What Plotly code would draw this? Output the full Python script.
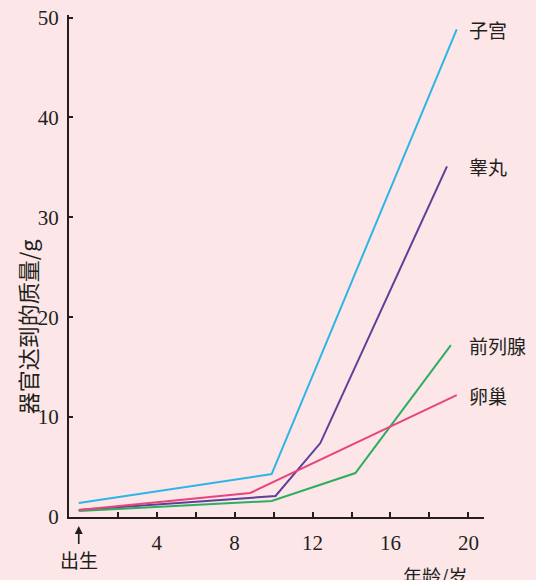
import plotly.graph_objects as go

# Data (age in years, organ mass in g)
uterus_x = [0, 9.9, 19.4]
uterus_y = [1.4, 4.3, 48.8]
testis_x = [0, 10.1, 12.4, 18.9]
testis_y = [0.7, 2.1, 7.4, 35.1]
prostate_x = [0, 9.9, 14.2, 19.1]
prostate_y = [0.6, 1.6, 4.4, 17.2]
ovary_x = [0, 8.8, 19.4]
ovary_y = [0.7, 2.4, 12.2]

series = [
    ("子宫", uterus_x, uterus_y, "#2cb5e6"),
    ("睾丸", testis_x, testis_y, "#5e3f99"),
    ("前列腺", prostate_x, prostate_y, "#2fae62"),
    ("卵巢", ovary_x, ovary_y, "#e8457c"),
]

x_tickvals = [2, 4, 6, 8, 10, 12, 14, 16, 18, 20]
x_ticktext = ["", "4", "", "8", "", "12", "", "16", "", "20"]
y_tickvals = [0, 10, 20, 30, 40, 50]

BG = "#fce6e8"
INK = "#231f20"
CJK = "Noto Sans CJK SC"
SERIF = "Liberation Serif"

fig = go.Figure()
for name, xs, ys, col in series:
    fig.add_trace(go.Scatter(x=xs, y=ys, mode="lines", name=name,
                             line=dict(color=col, width=2), showlegend=False,
                             hoverinfo="skip"))

annotations = []
for name, xs, ys, col in series:
    annotations.append(dict(x=20, y=ys[-1], xref="x", yref="y", text=name,
                            showarrow=False, xanchor="left", yanchor="middle",
                            xshift=-1,
                            font=dict(family=CJK, size=19, color=INK)))

# birth marker
annotations.append(dict(x=0, y=0, xref="x", yref="y", text="出生",
                        showarrow=True, arrowhead=2, arrowsize=1, arrowwidth=1.6,
                        arrowcolor=INK, ax=0, ay=42, standoff=9,
                        font=dict(family=CJK, size=19, color=INK)))
# x-axis title (partly below the bottom edge, as in the source figure)
annotations.append(dict(x=18.3, y=-0.086, xref="x", yref="paper", text="年龄/岁",
                        showarrow=False, xanchor="center", yanchor="top",
                        font=dict(family=CJK, size=19, color=INK)))
# y-axis title
annotations.append(dict(x=-0.101, y=0.380, xref="paper", yref="paper",
                        text="器官达到的质量/g", textangle=-90,
                        showarrow=False, xanchor="center", yanchor="middle",
                        font=dict(family=CJK, size=22, color=INK)))

fig.update_layout(
    width=536, height=580,
    paper_bgcolor=BG, plot_bgcolor=BG,
    margin=dict(l=69, r=52, t=15, b=63),
    annotations=annotations,
    xaxis=dict(range=[-0.5, 20.8], showgrid=False, zeroline=False,
               automargin=False,
               showline=True, linecolor=INK, linewidth=2,
               tickmode="array", tickvals=x_tickvals, ticktext=x_ticktext,
               ticks="inside", ticklen=5, tickwidth=2, tickcolor=INK,
               ticklabelstandoff=6,
               tickfont=dict(family=SERIF, size=21, color=INK)),
    yaxis=dict(range=[0, 50.25], showgrid=False, zeroline=False,
               automargin=False,
               showline=True, linecolor=INK, linewidth=2,
               tickmode="array", tickvals=y_tickvals,
               ticks="inside", ticklen=4, tickwidth=2, tickcolor=INK,
               ticklabelstandoff=4,
               tickfont=dict(family=SERIF, size=21, color=INK)),
)

fig.write_html(
    "out.html",
    config={"displayModeBar": False, "staticPlot": True},
    post_script="document.body.style.margin='0';document.body.style.padding='0';"
                "document.body.style.overflow='hidden';"
                "document.body.style.background='" + BG + "';",
)
